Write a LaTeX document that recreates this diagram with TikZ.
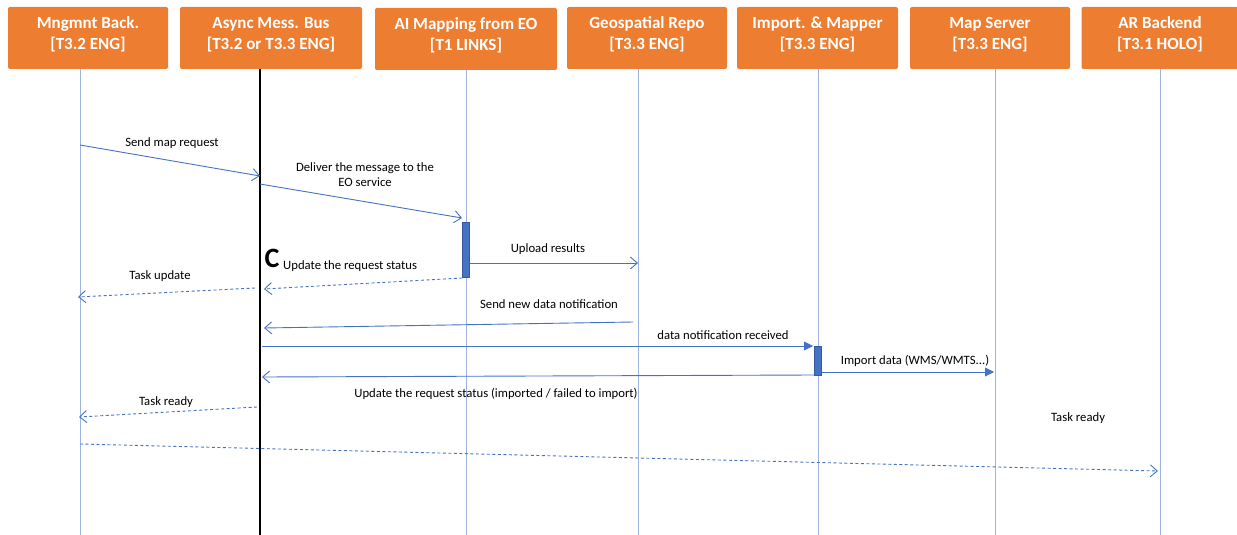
\documentclass[tikz,border=0pt]{standalone}
\usepackage{fontspec}
\setmainfont{Carlito}
\usetikzlibrary{arrows.meta}
\definecolor{hdr}{HTML}{ED7D31}
\definecolor{msg}{HTML}{4472C4}
\definecolor{life}{HTML}{9DB3E0}
% two bold, centred lines of a participant header
\newcommand{\hdrtext}[2]{\bfseries\begin{tabular}{@{}c@{}}#1\\\relax #2\end{tabular}}
\begin{document}
\begin{tikzpicture}[x=1pt,y=-1pt,
  header/.style={fill=hdr,rounded corners=2pt,text=white,font=\fontsize{17}{21}\selectfont\bfseries,
    minimum height=62pt,inner sep=0pt},
  lifeline/.style={draw=life,line width=0.8pt},
  busline/.style={draw=black,line width=1.6pt},
  call/.style={draw=msg,line width=0.9pt,-{Straight Barb[length=7pt,width=12pt,line width=0.9pt]}},
  reply/.style={draw=msg,line width=0.9pt,dash pattern=on 3pt off 2.5pt,-{Straight Barb[length=7pt,width=12pt,line width=0.9pt]}},
  fcall/.style={draw=msg,line width=0.9pt,-{Triangle[length=9pt,width=9pt]}},
  actbar/.style={fill=msg,draw=msg!80!black,line width=0.4pt,minimum width=7pt,inner sep=0pt},
  lbl/.style={font=\fontsize{12.7}{15}\selectfont,text=black,inner sep=0pt,align=center}]
\useasboundingbox (0,0) rectangle (1237,535);

% participant boxes
\node[header,minimum width=160pt] (mb) at (88,38) {};
\node[header,minimum width=182pt] (bus) at (271,38) {};
\node[header,minimum width=182pt] (ai) at (466,39) {};
\node[header,minimum width=160pt] (geo) at (647,38) {};
\node[header,minimum width=161pt] (imp) at (817.5,38) {};
\node[header,minimum width=160pt] (map) at (990,38) {};
\node[header,minimum width=157pt] (ar) at (1160,38) {};

% participant names
\node[header,fill=none,minimum height=0pt] at ([yshift=3pt]mb.center) {\hdrtext{Mngmnt Back.}{[T3.2 ENG]}};
\node[header,fill=none,minimum height=0pt] at ([yshift=3pt]bus.center) {\hdrtext{Async Mess. Bus}{[T3.2 or T3.3 ENG]}};
\node[header,fill=none,minimum height=0pt] at ([yshift=3pt]ai.center) {\hdrtext{AI Mapping from EO}{[T1 LINKS]}};
\node[header,fill=none,minimum height=0pt] at ([yshift=3pt]geo.center) {\hdrtext{Geospatial Repo}{[T3.3 ENG]}};
\node[header,fill=none,minimum height=0pt] at ([yshift=3pt]imp.center) {\hdrtext{Import. \& Mapper}{[T3.3 ENG]}};
\node[header,fill=none,minimum height=0pt] at ([yshift=3pt]map.center) {\hdrtext{Map Server}{[T3.3 ENG]}};
\node[header,fill=none,minimum height=0pt] at ([yshift=3pt]ar.center) {\hdrtext{AR Backend}{[T3.1 HOLO]}};

% lifelines
\draw[lifeline] (80,69) coordinate (mbT) -- (80,535) coordinate (mbB);
\draw[lifeline] (466,70) coordinate (aiT) -- (466,535) coordinate (aiB);
\draw[lifeline] (638,69) coordinate (geoT) -- (638,535) coordinate (geoB);
\draw[lifeline] (818,69) coordinate (impT) -- (818,535) coordinate (impB);
\draw[lifeline] (995,69) coordinate (mapT) -- (995,535) coordinate (mapB);
\draw[lifeline] (1160,69) coordinate (arT) -- (1160,535) coordinate (arB);
\draw[busline] (260,69) coordinate (busT) -- (260,535) coordinate (busB);

% activation bars
\node[actbar,minimum height=55pt,anchor=north] (aiact) at (466,222) {};
\node[actbar,minimum height=29pt,anchor=north] (impact) at (818,346) {};

% message end points
\coordinate (m1a) at (80,145);   \coordinate (m1b) at (260,176);
\coordinate (m2a) at (260,184);  \coordinate (m2b) at (462,218);
\coordinate (m4b) at (638,263);
\coordinate (m5b) at (264,289);
\coordinate (m6a) at (255,288);  \coordinate (m6b) at (78,297);
\coordinate (m7a) at (633,322);  \coordinate (m7b) at (264,328);
\coordinate (m8a) at (262,346);  \coordinate (m8b) at (813,346);
\coordinate (m10b) at (994,372);
\coordinate (m11b) at (262,377);
\coordinate (m12a) at (257,407); \coordinate (m12b) at (79,417);
\coordinate (m13a) at (80,444);  \coordinate (m13b) at (1158,471);

% messages
\draw[call] (m1a) -- (m1b);
\node[lbl] (t1) at (172,143) {Send map request};
\draw[call] (m2a) -- (m2b);
\node[lbl] (t2) at (365,175) {Deliver the message to the\\EO service};
\draw[call] (aiact.east |- m4b) -- (m4b);
\node[lbl] (t4) at (548,249) {Upload results};
\draw[reply] (aiact.west |- 0,278) -- (m5b);
\node[lbl,font=\fontsize{28}{28}\selectfont\bfseries] (cyc) at (272,258) {C};
\node[lbl,anchor=west] (t5) at (283,266) {Update the request status};
\draw[reply] (m6a) -- (m6b);
\node[lbl] (t6) at (160,276) {Task update};
\draw[call] (m7a) -- (m7b);
\node[lbl] (t7) at (549,304) {Send new data notification};
\draw[fcall] (m8a) -- (m8b);
\node[lbl] (t8) at (723,335) {data notification received};
\draw[fcall] (impact.east |- 0,372) -- (m10b);
\node[lbl] (t10) at (915,361) {Import data (WMS/WMTS...)};
\draw[call] (impact.west |- 0,375) -- (m11b);
\node[lbl] (t11) at (496,394) {Update the request status (imported / failed to import)};
\draw[reply] (m12a) -- (m12b);
\node[lbl] (t12) at (166,402) {Task ready};
\draw[reply] (m13a) -- (m13b);
\node[lbl] (t13) at (1078,418) {Task ready};
\end{tikzpicture}
\end{document}
